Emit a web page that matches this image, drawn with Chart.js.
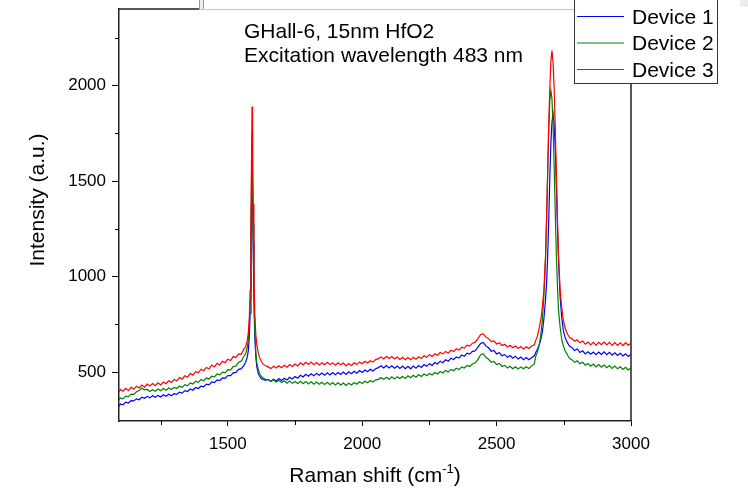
<!DOCTYPE html>
<html>
<head>
<meta charset="utf-8">
<script src="https://cdn.jsdelivr.net/npm/chart.js@4.4.1/dist/chart.umd.min.js"></script>
<style>
  html, body { margin: 0; padding: 0; background: #fff; }
  #plot { display: block; }
</style>
</head>
<body>
<canvas id="plot" width="748" height="489" style="width:748px;height:489px"></canvas>
<script>
// Raman shift (cm-1), shared by all three spectra
const ramanShift = [
  1096,1100,1110,1120,1130,1140,1150,1160,1170,1180,
  1190,1200,1210,1220,1230,1240,1250,1260,1270,1280,
  1290,1300,1310,1320,1330,1340,1350,1360,1370,1380,
  1390,1400,1410,1420,1430,1440,1450,1460,1470,1480,
  1490,1500,1510,1520,1530,1540,1550,1560,
  1566,1572,1576,1580,1583,1586,1588,1590,1592,1594,
  1597,1600,1604,1608,1614,1620,1626,1632,1640,
  1650,1660,1670,1680,1690,1700,1710,1720,1730,1740,
  1750,1760,1770,1780,1790,1800,1810,1820,1830,1840,
  1850,1860,1870,1880,1890,1900,1910,1920,1930,1940,
  1950,1960,1970,1980,1990,2000,2010,2020,2030,2040,
  2050,2060,2070,2080,2090,2100,2110,2120,2130,2140,
  2150,2160,2170,2180,2190,2200,2210,2220,2230,2240,
  2250,2260,2270,2280,2290,2300,2310,2320,2330,2340,
  2350,2360,2370,2380,2390,2400,2410,2420,2430,2440,
  2450,2460,2470,2480,2490,2500,2510,2520,2530,2540,
  2550,2560,2570,2580,2590,2600,2610,2620,2630,2640,
  2646,2652,2658,2664,2670,2676,2682,2686,2690,2694,
  2698,2702,2706,2710,2714,2718,2722,2726,2730,2736,
  2742,2748,2754,2760,2766,2772,
  2780,2790,2800,2810,2820,2830,2840,2850,2860,2870,
  2880,2890,2900,2910,2920,2930,2940,2950,2960,2970,
  2980,2990,3000
];

// Device 1 (blue)
const device1 = [
  322,334,330,344,339,352,350,361,356,370,
  364,374,366,377,369,379,371,382,374,385,
  377,388,384,396,391,404,399,412,406,420,
  415,427,424,438,434,449,446,460,456,470,
  468,482,482,497,499,515,519,536,
  552,578,612,690,810,1110,1340,1560,1390,1180,
  880,690,580,525,490,474,465,462,458,
  462,452,464,455,467,457,469,460,474,465,
  478,469,484,475,489,479,492,482,494,484,
  496,485,497,486,498,487,499,488,501,489,
  502,492,505,495,509,499,512,503,516,507,
  518,524,534,522,535,523,534,521,533,520,
  532,519,531,518,532,521,535,525,540,531,
  545,536,551,543,558,550,565,557,573,566,
  580,574,590,584,600,595,609,612,630,650,
  656,638,628,610,614,596,602,586,592,578,
  587,573,583,569,580,566,577,565,576,586,
  605,620,640,670,710,780,880,970,1110,1300,
  1520,1700,1810,1853,1800,1680,1490,1280,1100,900,
  790,720,685,665,648,636,
  630,614,622,603,612,596,607,594,606,592,
  605,593,607,592,604,589,602,588,599,585,
  597,583,594
];

// Device 2 (green)
const device2 = [
  356,366,361,375,372,386,384,398,404,416,
  408,410,399,409,401,412,403,415,406,418,
  410,421,415,428,420,435,429,444,438,453,
  447,462,455,470,465,479,476,491,486,500,
  497,514,512,530,532,552,558,585,
  596,628,668,748,880,1220,1490,1750,1500,1270,
  940,730,610,548,510,488,476,470,463,
  462,452,461,449,458,446,455,443,454,442,
  452,441,453,440,451,439,450,438,449,437,
  448,436,447,435,446,434,445,433,444,431,
  443,433,446,437,450,441,453,445,457,449,
  460,463,473,462,474,464,476,465,477,467,
  478,468,481,471,484,474,487,478,491,482,
  494,486,499,491,504,496,509,501,515,508,
  521,514,528,522,536,530,543,548,566,590,
  597,578,568,552,556,540,546,530,536,522,
  531,519,529,517,528,518,529,520,532,543,
  585,605,640,690,770,900,1090,1300,1540,1770,
  1920,1974,1930,1790,1580,1350,1130,960,830,740,
  675,640,615,600,585,572,
  566,552,560,544,552,537,546,532,543,528,
  540,526,538,524,535,520,532,518,529,515,
  526,512,522
];

// Device 3 (red)
const device3 = [
  398,410,401,416,405,421,412,427,418,433,
  422,438,428,441,430,445,434,449,440,455,
  447,462,455,472,464,482,474,493,485,503,
  497,516,508,525,517,537,528,547,538,557,
  550,568,561,582,577,596,594,622,
  632,665,705,790,930,1300,1600,1890,1620,1380,
  1030,820,700,640,596,570,552,541,534,
  528,519,531,522,534,524,537,526,540,530,
  543,533,549,538,552,541,553,540,551,538,
  550,539,552,540,549,537,550,539,548,533,
  546,536,549,540,554,545,557,548,560,553,
  566,571,580,570,583,572,582,569,580,567,
  578,566,577,565,578,568,581,572,586,578,
  592,583,597,589,603,596,609,601,615,608,
  623,616,631,626,642,637,652,656,675,696,
  702,684,676,660,664,648,655,640,646,632,
  641,628,637,624,634,622,633,624,636,644,
  668,690,730,770,840,930,1110,1310,1560,1800,
  1990,2130,2183,2120,1990,1790,1560,1320,1120,940,
  840,775,735,712,695,680,
  676,662,670,654,663,647,658,643,656,642,
  657,644,658,643,656,641,655,640,654,639,
  655,641,652
];

const seriesNames = ['Device 1', 'Device 2', 'Device 3'];
const seriesColors = ['#0000ff', '#008000', '#ff0000'];
const xTicks = [1500, 2000, 2500, 3000];
const yTicks = [500, 1000, 1500, 2000];
const minorX = [1250, 1750, 2250, 2750];
const minorY = [750, 1250, 1750, 2250];
const noteLines = ['GHall-6, 15nm HfO2', 'Excitation wavelength 483 nm'];

const FONT = "'Liberation Sans', Arial, sans-serif";

function toPoints(ys) {
  return ramanShift.map((x, i) => ({ x: x, y: ys[i] }));
}

// frame, minor ticks, titles, legend and the text note
const extras = {
  id: 'extras',
  afterDraw(chart) {
    const ctx = chart.ctx;
    const a = chart.chartArea;
    const x = chart.scales.x, y = chart.scales.y;
    ctx.save();

    // minor ticks
    ctx.strokeStyle = '#000';
    ctx.lineWidth = 1;
    ctx.beginPath();
    minorX.forEach(v => {
      const px = Math.round(x.getPixelForValue(v)) + 0.5;
      ctx.moveTo(px, a.bottom); ctx.lineTo(px, a.bottom + 4);
    });
    minorY.forEach(v => {
      const py = Math.round(y.getPixelForValue(v)) + 0.5;
      ctx.moveTo(a.left, py); ctx.lineTo(a.left - 4, py);
    });
    ctx.stroke();

    // top and right of the frame
    ctx.lineWidth = 1.5;
    ctx.strokeStyle = '#222';
    ctx.beginPath();
    ctx.moveTo(a.left, a.top); ctx.lineTo(199, a.top);
    ctx.moveTo(a.right, a.top); ctx.lineTo(a.right, a.bottom);
    ctx.stroke();
    ctx.lineWidth = 1;
    ctx.strokeStyle = '#c8c8c8';
    ctx.beginPath();
    ctx.moveTo(199, a.top + 0.5); ctx.lineTo(a.right, a.top + 0.5);
    ctx.stroke();

    // little window edge bits seen in the screenshot
    ctx.fillStyle = '#ececec';
    ctx.fillRect(199, 0, 5, a.top);
    ctx.strokeStyle = '#9a9a9a';
    ctx.beginPath();
    ctx.moveTo(199.5, 0); ctx.lineTo(199.5, a.top);
    ctx.moveTo(203.5, 0); ctx.lineTo(203.5, a.top);
    ctx.stroke();
    ctx.fillStyle = '#ededed';
    ctx.fillRect(740, 0, 8, 7);

    // note text
    ctx.fillStyle = '#000';
    ctx.font = '21px ' + FONT;
    ctx.textAlign = 'left';
    ctx.textBaseline = 'alphabetic';
    ctx.fillText(noteLines[0], 244, 38);
    ctx.fillText(noteLines[1], 244, 62);

    // legend
    const lx = 574.5, lw = 143, lb = 83.5;
    ctx.fillStyle = '#fff';
    ctx.fillRect(lx, -2, lw, lb + 2);
    ctx.strokeStyle = '#333';
    ctx.lineWidth = 1;
    ctx.strokeRect(lx, -2, lw, lb + 2);
    const rows = [16, 42.5, 69];
    chart.data.datasets.forEach((ds, i) => {
      ctx.strokeStyle = ds.borderColor;
      ctx.beginPath();
      ctx.moveTo(577, rows[i] + 0.5); ctx.lineTo(624, rows[i] + 0.5);
      ctx.stroke();
      ctx.fillStyle = '#000';
      ctx.fillText(ds.label, 632, rows[i] + 7.5);
    });

    // axis titles
    ctx.font = '21px ' + FONT;
    const main = 'Raman shift (cm', sup = '-1', close = ')';
    const w1 = ctx.measureText(main).width;
    const w3 = ctx.measureText(close).width;
    ctx.font = '13px ' + FONT;
    const w2 = ctx.measureText(sup).width;
    let tx = (a.left + a.right) / 2 - (w1 + w2 + w3) / 2;
    const tb = 482;
    ctx.font = '21px ' + FONT;
    ctx.fillText(main, tx, tb);
    ctx.font = '13px ' + FONT;
    ctx.fillText(sup, tx + w1, tb - 9);
    ctx.font = '21px ' + FONT;
    ctx.fillText(close, tx + w1 + w2, tb);

    ctx.translate(38, 200);
    ctx.rotate(-Math.PI / 2);
    ctx.textAlign = 'center';
    ctx.textBaseline = 'middle';
    ctx.fillText('Intensity (a.u.)', 0, 0);

    ctx.restore();
  }
};

function noScalePadding(s) {
  s.paddingTop = 0;
  s.paddingBottom = 0;
  s.paddingLeft = 0;
  s.paddingRight = 0;
}

const ctx = document.getElementById('plot');

new Chart(ctx, {
  type: 'line',
  data: {
    datasets: [
      { label: seriesNames[0], data: toPoints(device1), borderColor: seriesColors[0], order: 3 },
      { label: seriesNames[1], data: toPoints(device2), borderColor: seriesColors[1], order: 2 },
      { label: seriesNames[2], data: toPoints(device3), borderColor: seriesColors[2], order: 1 }
    ]
  },
  options: {
    responsive: false,
    animation: false,
    devicePixelRatio: 1,
    layout: { padding: { top: 9, right: 117, left: 0, bottom: 0 } },
    elements: {
      point: { radius: 0 },
      line: { borderWidth: 1.2, tension: 0, fill: false }
    },
    plugins: {
      legend: { display: false },
      tooltip: { enabled: false }
    },
    scales: {
      x: {
        type: 'linear',
        min: 1095,
        max: 3000,
        afterBuildTicks: s => { s.ticks = xTicks.map(v => ({ value: v })); },
        ticks: {
          callback: v => String(v),
          padding: 8,
          color: '#000',
          font: { family: FONT, size: 17 },
          maxRotation: 0,
          autoSkip: false
        },
        grid: { drawOnChartArea: false, tickLength: 5, tickColor: '#000', tickWidth: 1 },
        border: { color: '#222', width: 1.5 },
        afterFit: s => { s.height = 68; noScalePadding(s); }
      },
      y: {
        type: 'linear',
        min: 245,
        max: 2400,
        afterBuildTicks: s => { s.ticks = yTicks.map(v => ({ value: v })); },
        ticks: {
          callback: v => String(v),
          padding: 6,
          color: '#000',
          font: { family: FONT, size: 17 },
          autoSkip: false
        },
        grid: { drawOnChartArea: false, tickLength: 7, tickColor: '#000', tickWidth: 1 },
        border: { color: '#222', width: 1.5 },
        afterFit: s => { s.width = 119; noScalePadding(s); }
      }
    }
  },
  plugins: [extras]
});

console.log("Finished setting up graph");
</script>
</body>
</html>
